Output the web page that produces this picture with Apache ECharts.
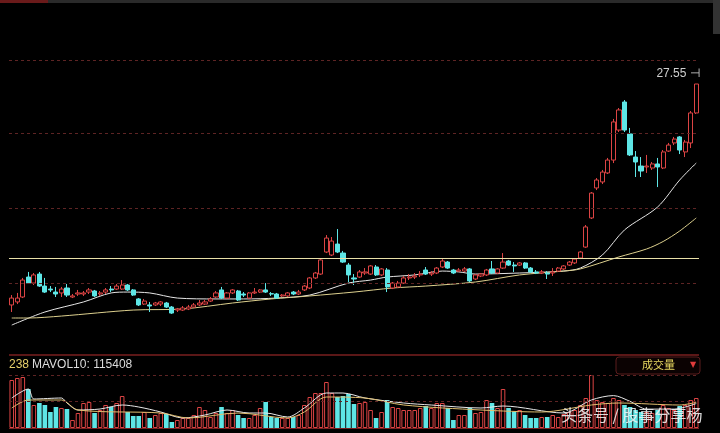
<!DOCTYPE html>
<html>
<head>
<meta charset="utf-8">
<script src="https://cdn.jsdelivr.net/npm/echarts@6/dist/echarts.min.js"></script>
<style>
html,body{margin:0;padding:0;background:#000;}
#chart{width:720px;height:433px;}
</style>
</head>
<body>
<div id="chart"></div>
<script>
// [open, close, low, high]
const ohlc = [
[12.82,13.28,12.35,13.48],[13.02,13.28,12.88,13.62],[13.35,14.48,13.28,14.62],[14.68,14.28,14.22,15.02],[14.28,14.82,14.15,14.95],
[14.88,14.08,14.02,15.02],[14.08,13.68,13.62,14.62],[13.88,13.82,13.68,14.08],[13.68,13.55,13.35,14.02],[13.62,13.88,13.35,14.02],
[13.95,13.48,13.35,14.22],[13.35,13.42,13.28,13.55],[13.55,13.62,13.42,13.82],[13.55,13.62,13.42,13.75],[13.68,13.82,13.55,13.95],
[13.75,13.42,13.35,13.82],[13.55,13.62,13.42,13.75],[13.68,13.82,13.55,13.95],[13.88,13.82,13.68,14.08],[13.88,14.08,13.82,14.22],
[13.88,14.15,13.82,14.48],[14.15,13.82,13.75,14.22],[13.82,13.48,13.42,13.88],[13.22,12.82,12.75,13.28],[12.88,13.08,12.82,13.22],
[12.82,12.75,12.35,13.02],[12.82,12.95,12.75,13.02],[12.88,13.02,12.75,13.08],[12.95,12.68,12.62,13.02],[12.68,12.28,12.22,12.75],
[12.48,12.55,12.35,12.62],[12.48,12.62,12.42,12.75],[12.55,12.68,12.48,12.82],[12.68,12.82,12.62,12.95],[12.82,12.95,12.75,13.15],
[12.88,13.02,12.82,13.15],[13.08,13.22,13.02,13.35],[13.35,13.62,13.28,13.75],[13.82,13.28,13.22,14.02],[13.28,13.62,13.22,13.68],
[13.62,13.82,13.55,13.88],[13.75,13.15,13.08,13.82],[13.55,13.48,13.35,13.68],[13.28,13.62,13.22,13.68],[13.62,13.68,13.55,13.95],
[13.68,13.82,13.62,13.88],[13.82,13.68,13.62,14.28],[13.57,13.55,13.42,13.68],[13.55,13.28,13.22,13.62],[13.42,13.48,13.35,13.55],
[13.42,13.62,13.35,13.68],[13.68,13.55,13.48,13.75],[13.55,13.68,13.48,13.82],[13.82,14.08,13.75,14.15],[13.95,14.62,13.88,14.68],
[14.62,14.95,14.55,15.02],[14.88,15.82,14.82,15.88],[16.35,17.28,16.28,17.48],[16.15,17.08,16.08,17.35],[16.88,16.35,16.28,17.88],
[16.28,15.68,15.62,16.42],[15.48,14.82,14.35,15.62],[14.62,14.55,14.15,14.88],[14.68,15.02,14.62,15.15],[14.95,15.02,14.82,15.28],
[14.88,15.42,14.82,15.48],[15.35,14.82,14.75,15.48],[14.82,15.22,14.75,15.28],[15.15,14.02,13.68,15.28],[13.95,14.28,13.88,14.35],
[14.02,14.28,13.95,14.42],[14.28,14.62,14.22,14.75],[14.62,14.68,14.48,14.88],[14.68,14.75,14.55,14.95],[14.82,14.88,14.68,15.08],
[15.15,14.88,14.82,15.35],[14.88,14.95,14.75,15.08],[14.95,15.28,14.88,15.35],[15.35,15.75,15.28,15.88],[15.68,15.28,15.22,15.75],
[15.15,14.95,14.88,15.22],[15.08,15.15,15.02,15.28],[15.08,15.22,15.02,15.35],[15.22,14.42,14.35,15.28],[14.55,14.82,14.48,14.88],
[14.75,14.88,14.68,14.95],[14.82,15.15,14.75,15.22],[15.22,14.95,14.88,15.75],[14.95,15.22,14.88,15.28],[15.28,15.68,15.22,16.28],
[15.75,15.48,15.42,15.82],[15.48,15.42,15.02,15.68],[15.48,15.62,15.42,15.68],[15.62,15.28,15.22,15.68],[15.28,15.02,14.95,15.35],
[15.02,14.95,14.88,15.15],[14.95,15.02,14.88,15.15],[14.95,14.88,14.55,15.08],[14.95,15.02,14.75,15.28],[15.08,15.28,15.02,15.35],
[15.22,15.42,15.15,15.48],[15.48,15.68,15.42,15.75],[15.62,15.88,15.55,15.95],[15.95,16.35,15.88,16.42],[16.68,18.02,16.62,18.15],
[18.62,20.28,18.55,20.35],[20.62,21.15,20.48,21.28],[21.02,21.68,20.88,21.82],[21.62,22.48,21.55,22.62],[22.48,25.02,22.28,25.22],
[24.48,25.82,24.35,25.95],[26.35,24.48,24.35,26.48],[24.22,22.82,22.75,24.62],[22.68,22.35,21.35,23.08],[22.08,21.75,21.35,22.68],
[22.02,22.08,21.62,22.82],[21.95,22.22,21.82,22.35],[22.22,22.02,20.68,22.62],[21.95,23.02,21.88,23.15],[23.08,23.48,23.02,23.62],
[23.62,23.88,23.48,24.02],[24.02,23.15,22.88,24.08],[23.02,23.68,22.68,23.82],[23.62,25.62,23.28,25.75],[25.62,27.55,25.55,27.55]
];

const volumes = [
216000,225000,229500,175500,103500,112500,103500,72000,94500,90000,
85500,36000,67500,112500,117000,67500,81000,103500,94500,112500,
144000,72000,54000,54000,72000,45000,58500,67500,63000,27000,
36000,45000,45000,58500,94500,81000,49500,67500,94500,67500,
81000,58500,45000,45000,58500,90000,117000,49500,45000,45000,
45000,49500,58500,103500,139500,157500,157500,207000,157500,139500,
144000,153000,108000,112500,117000,81000,45000,72000,126000,94500,
90000,81000,81000,81000,90000,99000,90000,112500,112500,90000,
36000,58500,58500,90000,67500,72000,126000,112500,90000,175500,
90000,72000,81000,58500,45000,45000,49500,49500,58500,49500,
63000,72000,81000,103500,135000,238500,126000,117000,112500,135000,
126000,103500,94500,81000,72000,72000,67500,81000,103500,90000,
81000,99000,103500,126000,135000
];

// moving-average lines: [dayIndex, value]
const maShort = [[0,11.48],[6,12.35],[13,13.02],[18,13.62],[21,13.68],[25,13.62],[30,13.28],[37,13.22],[42,13.22],[48,13.28],[54,13.48],[61,14.28],[65,14.48],[68,14.68],[73,14.82],[78,15.08],[81,15.02],[84,14.88],[92,14.95],[100,15.08],[103,15.28],[107,16.15],[111,17.82],[117,19.35],[121,21.15],[124,22.28]];
const maLong = [[0,11.95],[3,11.95],[9,12.08],[22,12.48],[31,12.55],[40,12.95],[47,13.22],[54,13.42],[62,13.68],[69,13.95],[75,14.08],[84,14.35],[92,14.82],[100,15.08],[103,15.22],[110,16.02],[115,16.55],[118,17.05],[121,17.75],[124,18.62]];
const volMa5 = [[0,135000],[3,175500],[4,130500],[9,135000],[10,112500],[12,81000],[16,85500],[20,103500],[23,94500],[27,72000],[31,45000],[35,58500],[39,81000],[43,67500],[46,67500],[50,49500],[53,90000],[57,157500],[60,157500],[64,135000],[71,112500],[76,103500],[85,90000],[89,99000],[100,67500],[105,126000],[109,145800],[112,120000],[115,85000],[120,85000],[124,110000]];
const volMa10 = [[0,90000],[3,126000],[9,126000],[12,81000],[27,67500],[32,45000],[41,67500],[50,45000],[53,72000],[57,139500],[64,135000],[71,103500],[85,81000],[96,72000],[105,103500],[110,112500],[121,103500],[124,115408]];

const gridLevels = [29.15, 24.25, 19.25, 14.3];
const supportLevel = 15.95;
const volLevels = [238500, 121500];
const volLabelLeft = '238';
const volLabelRight = 'MAVOL10: 115408';

const upColor = '#dc4444';
const downColor = '#5ee6e6';
const days = ohlc.map((_, i) => i + 1);
const maxHigh = Math.max(...ohlc.map(d => d[3]));
const maxIdx = ohlc.findIndex(d => d[3] === maxHigh);

const chart = echarts.init(document.getElementById('chart'), null, {renderer: 'canvas'});
const font = '"Liberation Sans", Arial, sans-serif';

chart.setOption({
  backgroundColor: '#000',
  animation: false,
  grid: [
    {left: 9, width: 690, top: 60, height: 285},
    {left: 9, width: 690, top: 355, height: 73}
  ],
  xAxis: [
    {type: 'category', data: days, gridIndex: 0, show: false},
    {type: 'category', data: days, gridIndex: 1, show: false}
  ],
  yAxis: [
    {type: 'value', gridIndex: 0, min: 10.15, max: 29.15, show: false},
    {type: 'value', gridIndex: 1, min: 0, max: 328500, show: false}
  ],
  series: [
    {
      type: 'candlestick',
      data: ohlc,
      barWidth: 4.6,
      itemStyle: {color: '#000', color0: downColor, borderColor: upColor, borderColor0: downColor, borderWidth: 1},
      markLine: {
        silent: true, symbol: 'none', label: {show: false},
        data: gridLevels.map(v => ({yAxis: v, lineStyle: {color: '#5e2424', type: [3, 3], width: 1}}))
          .concat([{yAxis: supportLevel, lineStyle: {color: '#e9e0a8', type: 'solid', width: 1.2}}])
      },
      markPoint: {
        symbol: 'rect', symbolSize: 1,
        itemStyle: {color: 'rgba(0,0,0,0)'},
        data: [{coord: [maxIdx, maxHigh], value: maxHigh}],
        label: {show: true, position: 'left', distance: 0, offset: [4, -10], color: '#cfcfcf', fontSize: 12, fontFamily: font,
          formatter: p => Number(p.value).toFixed(2) + ' ⊣'}
      },
      z: 3
    },
    {
      type: 'line', data: maShort, smooth: 0.3, symbol: 'none',
      lineStyle: {color: '#e6e6e6', width: 1}, z: 2
    },
    {
      type: 'line', data: maLong, smooth: 0.3, symbol: 'none',
      lineStyle: {color: '#ddd08e', width: 1}, z: 2
    },
    {
      type: 'bar', xAxisIndex: 1, yAxisIndex: 1, barWidth: 4.6,
      data: volumes.map((v, i) => ({
        value: v,
        itemStyle: ohlc[i][1] >= ohlc[i][0]
          ? {color: '#000', borderColor: upColor, borderWidth: 1}
          : {color: downColor}
      })),
      markLine: {
        silent: true, symbol: 'none', label: {show: false},
        data: volLevels.map(v => ({yAxis: v, lineStyle: {color: '#5e2424', type: [3, 3], width: 1}}))
          .concat([{yAxis: 328500, lineStyle: {color: '#7a1f1f', type: 'solid', width: 1.5}},
                   {yAxis: 0, lineStyle: {color: '#7a1f1f', type: 'solid', width: 1}}])
      }
    },
    {
      type: 'line', xAxisIndex: 1, yAxisIndex: 1, data: volMa5, smooth: 0.3, symbol: 'none',
      lineStyle: {color: '#e8e8e8', width: 1}, z: 4
    },
    {
      type: 'line', xAxisIndex: 1, yAxisIndex: 1, data: volMa10, smooth: 0.3, symbol: 'none',
      lineStyle: {color: '#e0bf70', width: 1}, z: 4
    }
  ],
  graphic: [
    {type: 'rect', shape: {x: 0, y: 0, width: 720, height: 3}, style: {fill: '#2a2a2a'}},
    {type: 'rect', shape: {x: 0, y: 0, width: 48, height: 3}, style: {fill: '#6a1a1a'}},
    {type: 'rect', shape: {x: 713, y: 0, width: 7, height: 34}, style: {fill: '#333'}},
    {type: 'text', x: 9, y: 359, style: {text: volLabelLeft, fill: '#e6cf6a', font: '12px ' + font}},
    {type: 'text', x: 32, y: 359, style: {text: volLabelRight, fill: '#dcdcdc', font: '12px ' + font}},
    {type: 'rect', shape: {x: 616, y: 357, width: 84, height: 17, r: 3}, style: {fill: '#0b0202', stroke: '#5a1c1c', lineWidth: 1}},
    {type: 'text', x: 642, y: 359, style: {text: '成交量', fill: '#e8d860', font: '11px "Noto Sans CJK SC"'}},
    {type: 'text', x: 690, y: 361, style: {text: '▼', fill: '#e03c3c', font: '8px "DejaVu Sans"'}},
    {type: 'text', x: 561, y: 407, z: 100, style: {text: '头条号 / 股事分享杨', fill: 'rgba(240,240,240,0.9)', font: '16px "Noto Sans CJK SC"',
      shadowColor: 'rgba(0,0,0,0.6)', shadowBlur: 2}}
  ]
});
</script>
</body>
</html>
